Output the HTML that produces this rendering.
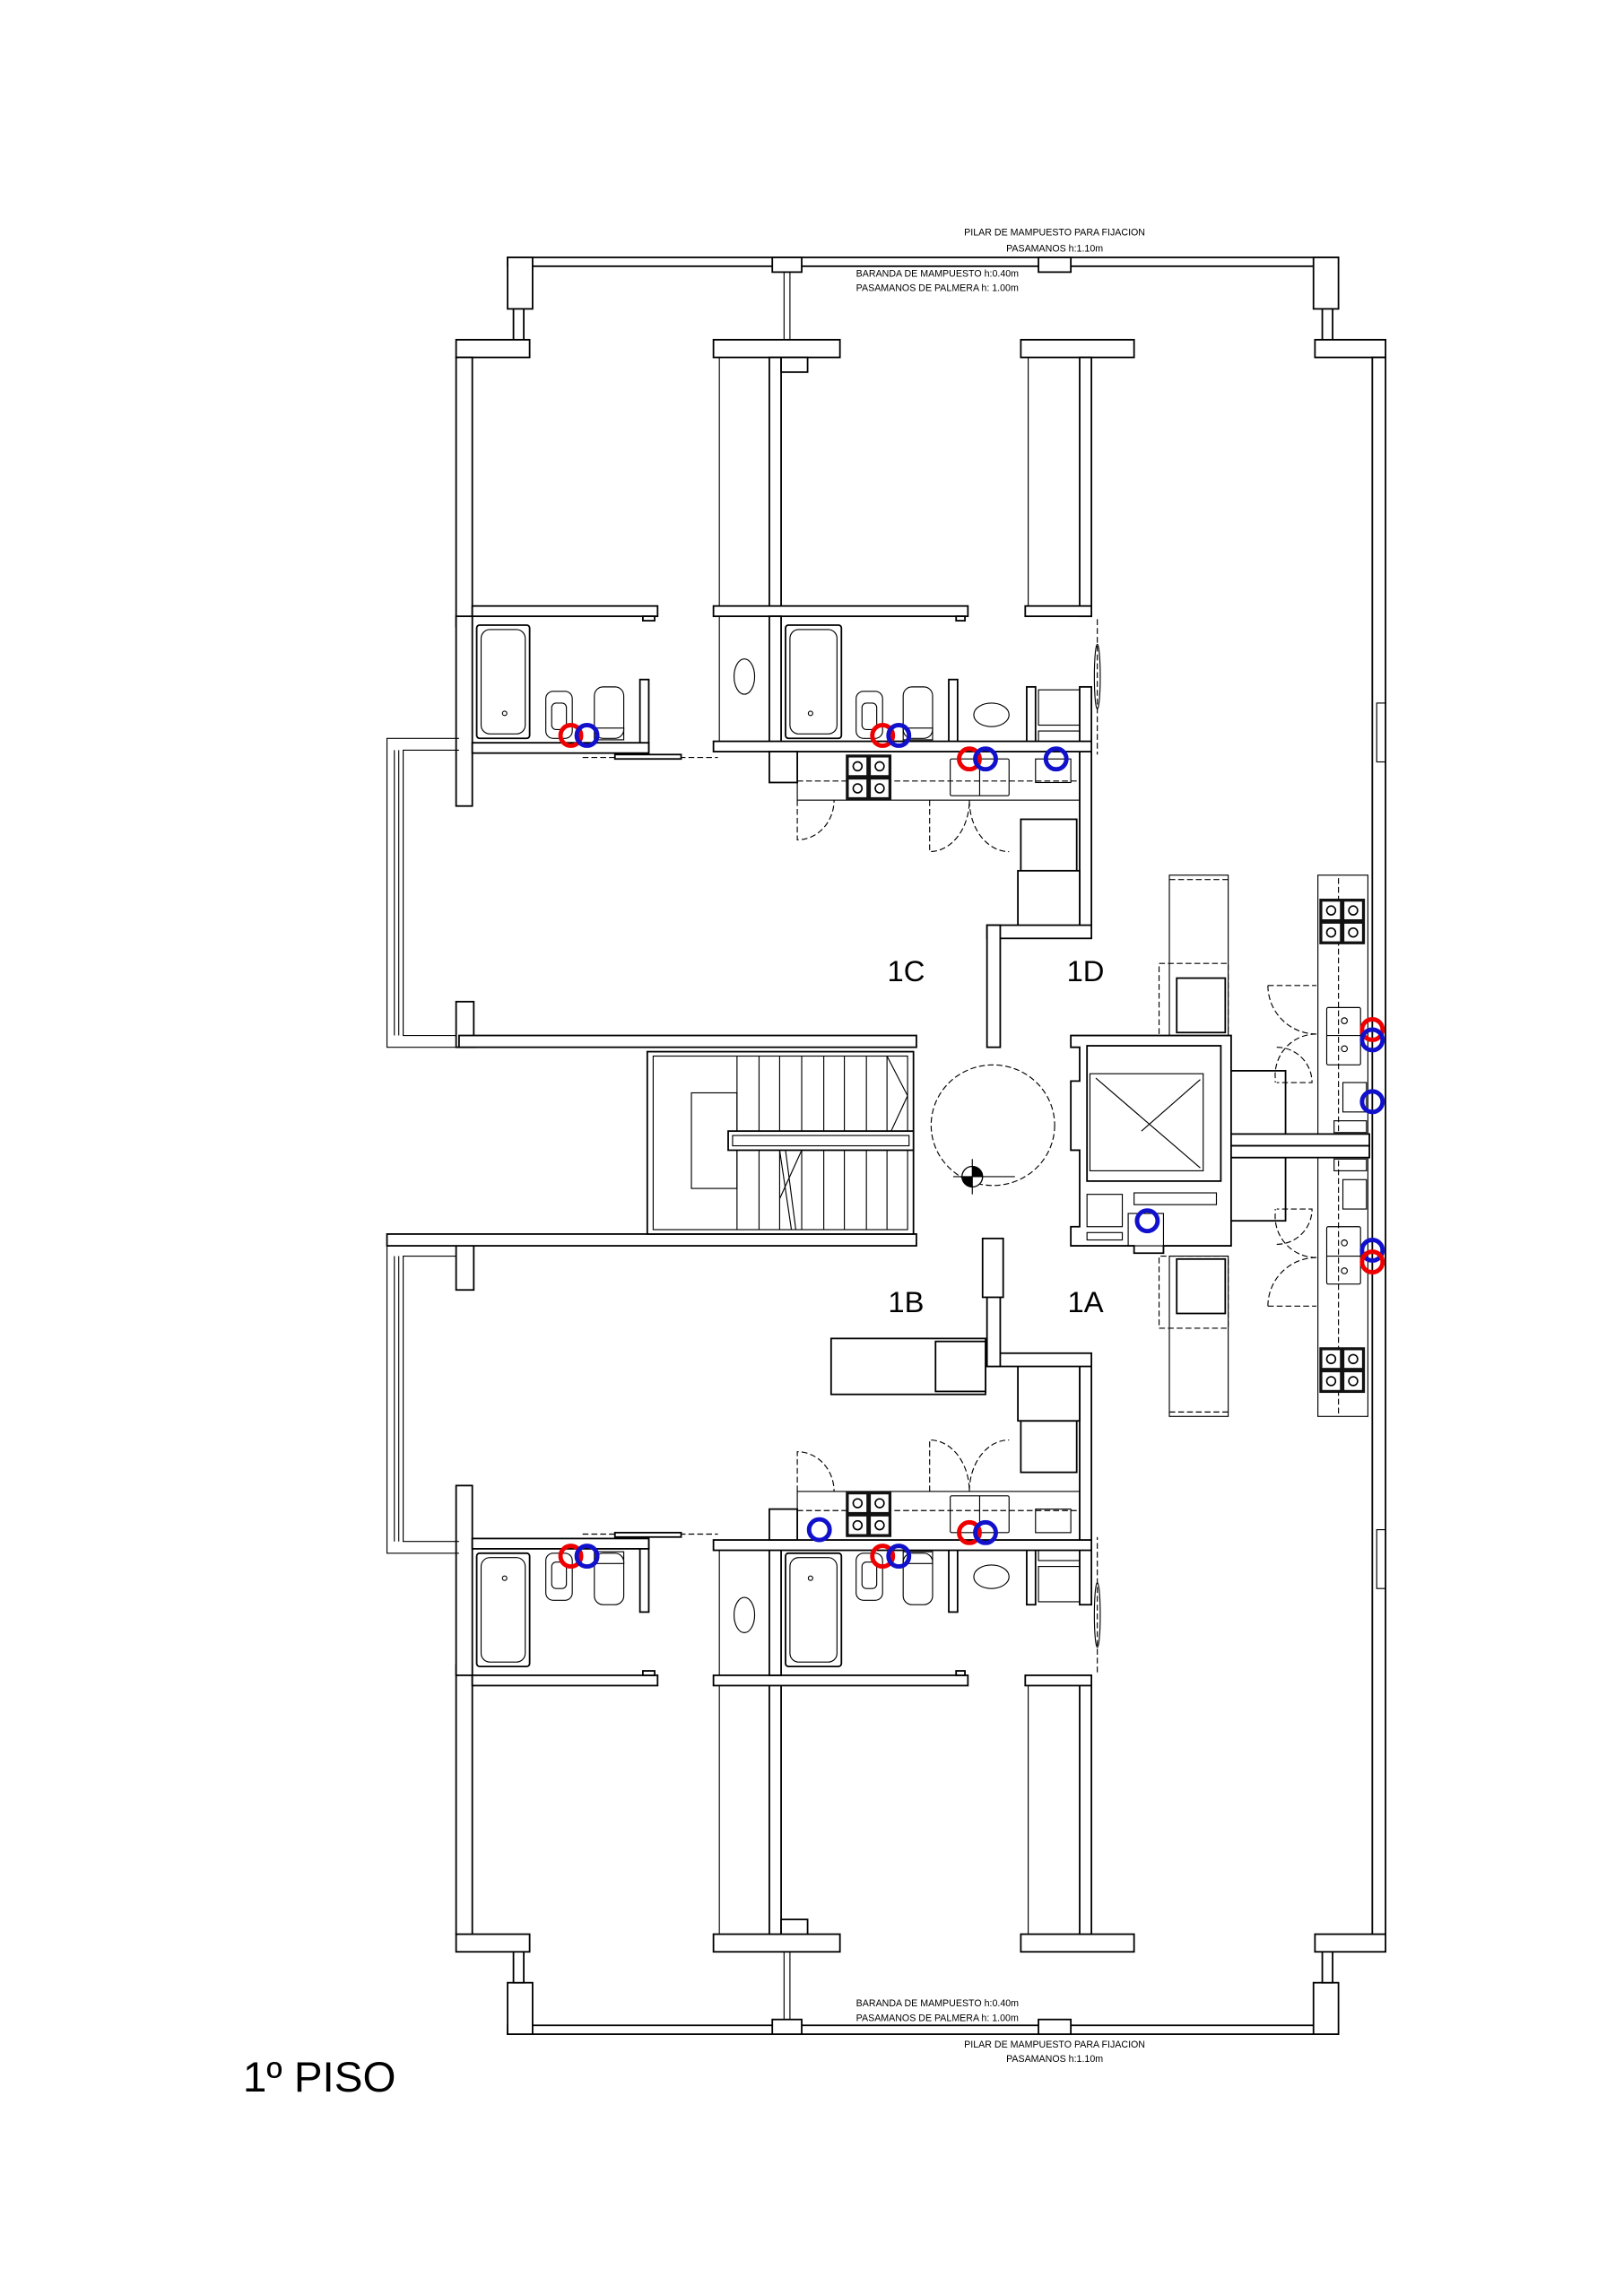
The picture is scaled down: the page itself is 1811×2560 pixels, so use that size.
<!DOCTYPE html>
<html><head><meta charset="utf-8"><style>
html,body{margin:0;padding:0;background:#fff}
svg{display:block}
.w{fill:#fff;stroke:#000;stroke-width:1.1}
.t{fill:none;stroke:#000;stroke-width:0.7}
.d{fill:none;stroke:#000;stroke-width:0.7;stroke-dasharray:4 2}
.rc{fill:none;stroke:#e00;stroke-width:3}
.bc{fill:none;stroke:#11c;stroke-width:3}
text{font-family:"Liberation Sans",sans-serif;fill:#000}
</style></head><body>
<svg width="1811" height="2560" viewBox="0 0 1104 1561" xmlns="http://www.w3.org/2000/svg">
<defs>
<g id="stove">
<rect x="0" y="0" width="31" height="31" fill="#111"/>
<g fill="#fff" stroke="none">
<rect x="2" y="2" width="12" height="12"/><rect x="17" y="2" width="12" height="12"/>
<rect x="2" y="17" width="12" height="12"/><rect x="17" y="17" width="12" height="12"/></g>
<g fill="none" stroke="#000" stroke-width="1">
<circle cx="8" cy="8" r="3"/><circle cx="23" cy="8" r="3"/><circle cx="8" cy="23" r="3"/><circle cx="23" cy="23" r="3"/></g>
</g>
<g id="T">
<!-- balcony -->
<rect class="w" x="345" y="175" width="565" height="6"/>
<rect class="w" x="345" y="175" width="17" height="35"/>
<rect class="w" x="349" y="210" width="7" height="23"/>
<rect class="w" x="893" y="175" width="17" height="35"/>
<rect class="w" x="899" y="210" width="7" height="23"/>
<rect class="w" x="525" y="175" width="20" height="10"/>
<rect class="w" x="706" y="175" width="22" height="10"/>
<line class="t" x1="533" y1="185" x2="533" y2="233"/><line class="t" x1="537" y1="185" x2="537" y2="233"/>
<!-- top walls -->
<rect class="w" x="310" y="231" width="50" height="12"/>
<rect class="w" x="485" y="231" width="86" height="12"/>
<rect class="w" x="694" y="231" width="77" height="12"/>
<rect class="w" x="894" y="231" width="48" height="12"/>
<!-- bedroom walls -->
<rect class="w" x="310" y="243" width="11" height="183"/>
<rect class="w" x="321" y="412" width="126" height="7"/>
<rect class="w" x="437" y="419" width="8" height="3"/>
<line class="t" x1="489" y1="243" x2="489" y2="412"/>
<rect class="w" x="523" y="243" width="8" height="176"/>
<rect class="w" x="531" y="243" width="18" height="10"/>
<rect class="w" x="485" y="412" width="173" height="7"/>
<rect class="w" x="650" y="419" width="6" height="3"/>
<line class="t" x1="699" y1="243" x2="699" y2="412"/>
<rect class="w" x="734" y="243" width="8" height="176"/>
<rect class="w" x="697" y="412" width="45" height="7"/>
<!-- bathroom 1 -->
<rect class="w" x="310" y="419" width="11" height="129"/>
<rect class="w" x="324" y="425" width="36" height="77" rx="2"/>
<rect class="t" x="327" y="428" width="30" height="71" rx="6"/>
<circle class="t" cx="343" cy="485" r="1.5"/>
<rect class="t" x="371" y="470" width="18" height="32" rx="5"/><rect class="t" x="375" y="478" width="10" height="18" rx="3"/>
<rect class="t" x="404" y="467" width="20" height="35" rx="6"/><rect class="t" x="404" y="495" width="20" height="8"/>
<rect class="w" x="435" y="462" width="6" height="49"/>
<rect class="w" x="321" y="505" width="120" height="7"/>
<line class="d" x1="396" y1="515" x2="488" y2="515"/>
<rect class="w" x="418" y="513" width="45" height="3"/>
<!-- left window bay -->
<polyline class="t" points="312,502 263,502 263,712 312,712"/>
<polyline class="t" points="312,510 274,510 274,704 312,704"/>
<line class="t" x1="268" y1="510" x2="268" y2="704"/><line class="t" x1="271" y1="510" x2="271" y2="704"/>
<rect class="w" x="310" y="681" width="12" height="31"/>
<!-- bathroom 2 -->
<line class="t" x1="489" y1="419" x2="489" y2="511"/>
<ellipse class="t" cx="506" cy="460" rx="7" ry="12"/>
<rect class="w" x="523" y="419" width="8" height="92"/>
<rect class="w" x="534" y="425" width="38" height="77" rx="2"/>
<rect class="t" x="537" y="428" width="32" height="71" rx="6"/>
<circle class="t" cx="551" cy="485" r="1.5"/>
<rect class="t" x="582" y="470" width="18" height="32" rx="5"/><rect class="t" x="586" y="478" width="10" height="18" rx="3"/>
<rect class="t" x="614" y="467" width="20" height="35" rx="6"/><rect class="t" x="614" y="495" width="20" height="8"/>
<rect class="w" x="645" y="462" width="6" height="44"/>
<ellipse class="t" cx="674" cy="486" rx="12" ry="8"/>
<rect class="w" x="698" y="467" width="6" height="39"/>
<rect class="t" x="706" y="469" width="28" height="24"/>
<rect class="t" x="706" y="497" width="28" height="7"/>
<rect class="w" x="734" y="467" width="8" height="164"/>
<line class="d" x1="746" y1="421" x2="746" y2="513"/>
<ellipse class="t" cx="746" cy="460" rx="2" ry="22"/>
<rect class="w" x="485" y="504" width="257" height="7"/>
<!-- kitchen 1D -->
<rect class="t" x="542" y="511" width="192" height="33"/>
<line class="d" x1="542" y1="531" x2="734" y2="531"/>
<use href="#stove" x="575" y="513"/>
<rect class="t" x="646" y="516" width="40" height="25" rx="1"/><line class="t" x1="666" y1="516" x2="666" y2="541"/>
<rect class="t" x="704" y="516" width="24" height="16"/>
<rect class="w" x="523" y="511" width="19" height="21"/>
<path class="d" d="M542 544 V571 A25 27 0 0 0 567 544"/>
<path class="d" d="M632 544 V579 A27 35 0 0 0 659 544 A27 35 0 0 0 686 579"/>
<rect class="w" x="694" y="557" width="38" height="35"/>
<rect class="w" x="692" y="592" width="42" height="39"/>
<rect class="w" x="671" y="629" width="71" height="9"/>
<rect class="w" x="671" y="629" width="9" height="83"/>
<!-- right side 1D -->
<rect class="t" x="795" y="595" width="40" height="109"/>
<line class="d" x1="795" y1="598" x2="835" y2="598"/>
<rect class="d" x="788" y="655" width="47" height="49"/>
<rect class="w" x="800" y="665" width="33" height="37"/>
<rect class="t" x="896" y="595" width="34" height="176"/>
<line class="d" x1="910" y1="597" x2="910" y2="771"/>
<use href="#stove" x="897" y="611"/>
<rect class="t" x="902" y="685" width="23" height="39" rx="1"/><line class="t" x1="902" y1="704" x2="925" y2="704"/>
<circle class="t" cx="914" cy="694" r="2"/><circle class="t" cx="914" cy="713" r="2"/>
<rect class="w" x="835" y="728" width="39" height="43"/>
<rect class="t" x="913" y="736" width="16" height="20"/>
<rect class="t" x="907" y="762" width="22" height="8"/>
<path class="d" d="M862 670 H895 M862 670 A33 33 0 0 0 895 703 M895 703 A28 28 0 0 0 867 733 V736 M868 712 A24 24 0 0 1 892 736 H868"/>
<rect class="w" x="834" y="771" width="97" height="8"/>
<circle class="rc" cx="388" cy="500" r="7"/><circle class="bc" cx="399" cy="500" r="7"/>
<circle class="rc" cx="600" cy="500" r="7"/><circle class="bc" cx="611" cy="500" r="7"/>
<circle class="rc" cx="659" cy="516" r="7"/><circle class="bc" cx="670" cy="516" r="7"/>
</g>
</defs>
<use href="#T"/>
<use href="#T" transform="matrix(1 0 0 -1 0 1558)"/>
<!-- right outer wall -->
<rect class="w" x="933" y="243" width="9" height="1072"/>
<rect class="t" x="936" y="478" width="6" height="40"/>
<rect class="t" x="936" y="1040" width="6" height="40"/>
<!-- hall walls -->
<rect class="w" x="312" y="704" width="311" height="8"/>
<rect class="w" x="263" y="839" width="360" height="8"/>
<!-- stair -->
<rect class="w" x="440" y="715" width="181" height="124"/>
<rect class="t" x="444" y="718" width="173" height="118"/>
<rect class="t" x="470" y="743" width="31" height="65"/>
<g class="t">
<line x1="501" y1="718" x2="501" y2="836"/><line x1="516" y1="718" x2="516" y2="836"/><line x1="530" y1="718" x2="530" y2="836"/>
<line x1="545" y1="718" x2="545" y2="836"/><line x1="560" y1="718" x2="560" y2="836"/><line x1="574" y1="718" x2="574" y2="836"/>
<line x1="589" y1="718" x2="589" y2="836"/><line x1="603" y1="718" x2="603" y2="836"/>
<line x1="603" y1="718" x2="617" y2="745"/><line x1="617" y1="745" x2="603" y2="775"/>
<line x1="530" y1="782" x2="538" y2="836"/><line x1="534" y1="782" x2="541" y2="836"/><line x1="545" y1="782" x2="530" y2="815"/>
</g>
<rect class="w" x="495" y="769" width="126" height="13"/>
<rect class="t" x="498" y="772" width="120" height="7"/>
<!-- circle -->
<ellipse class="d" cx="675" cy="765" rx="42" ry="41"/>
<circle cx="661" cy="800" r="7" fill="#fff" stroke="#000" stroke-width="0.8"/>
<path d="M661 793 A7 7 0 0 1 668 800 H661Z M661 807 A7 7 0 0 1 654 800 H661Z" fill="#000"/>
<line class="t" x1="648" y1="800" x2="690" y2="800"/><line class="t" x1="661" y1="788" x2="661" y2="812"/>
<rect class="w" x="668" y="842" width="14" height="40"/>
<!-- elevator -->
<path class="w" d="M728 704 H837 V847 H791 V852 H771 V847 H728 V834 H734 V782 H728 V735 H734 V712 H728Z"/>
<rect class="w" x="739" y="711" width="91" height="92"/>
<rect class="t" x="741" y="730" width="77" height="66"/>
<line class="t" x1="745" y1="733" x2="816" y2="794"/><line class="t" x1="776" y1="769" x2="816" y2="734"/>
<rect class="t" x="739" y="812" width="24" height="22"/>
<rect class="t" x="739" y="838" width="24" height="5"/>
<rect class="t" x="771" y="811" width="56" height="8"/>
<rect class="t" x="767" y="825" width="24" height="22"/>
<circle class="bc" cx="780" cy="830" r="7"/>
<!-- 1B peninsula -->
<rect class="w" x="565" y="910" width="105" height="38"/>
<rect class="w" x="636" y="912" width="34" height="34"/>
<!-- right circles -->
<circle class="rc" cx="933" cy="700" r="7"/><circle class="bc" cx="933" cy="707" r="7"/>
<circle class="bc" cx="933" cy="749" r="7"/>
<circle class="bc" cx="933" cy="850" r="7"/><circle class="rc" cx="933" cy="858" r="7"/>
<circle class="bc" cx="718" cy="516" r="7"/>
<circle class="bc" cx="557" cy="1040" r="7"/>
<!-- labels -->
<g font-size="20" text-anchor="middle">
<text x="616" y="667">1C</text><text x="738" y="667">1D</text>
<text x="616" y="892">1B</text><text x="738" y="892">1A</text>
</g>
<g font-size="6.5" text-anchor="middle">
<text x="717" y="160">PILAR DE MAMPUESTO PARA FIJACION</text>
<text x="717" y="171">PASAMANOS h:1.10m</text>
<text x="717" y="1392">PILAR DE MAMPUESTO PARA FIJACION</text>
<text x="717" y="1402">PASAMANOS h:1.10m</text>
</g>
<g font-size="6.5">
<text x="582" y="188">BARANDA DE MAMPUESTO h:0.40m</text>
<text x="582" y="198">PASAMANOS DE PALMERA h: 1.00m</text>
<text x="582" y="1364">BARANDA DE MAMPUESTO h:0.40m</text>
<text x="582" y="1374">PASAMANOS DE PALMERA h: 1.00m</text>
</g>
<text x="165" y="1422" font-size="29">1º PISO</text>
</svg>
</body></html>
